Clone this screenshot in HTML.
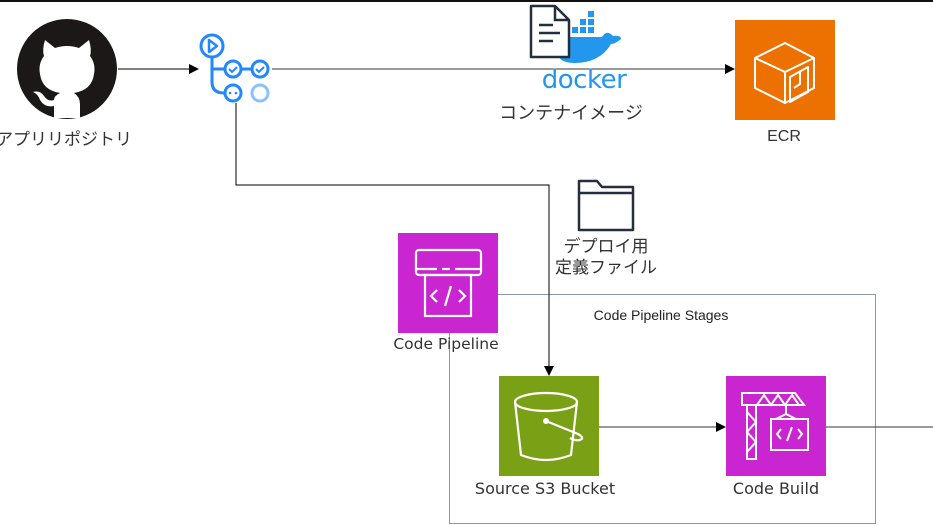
<!DOCTYPE html>
<html><head><meta charset="utf-8"><style>
html,body{margin:0;padding:0;background:#fff;}
body{width:933px;height:525px;overflow:hidden;position:relative;font-family:"Liberation Sans","Noto Sans CJK JP",sans-serif;}
.t{position:absolute;color:#333;font-size:16px;white-space:nowrap;transform:translateX(-50%);}
</style></head><body>
<div style="position:absolute;left:0;top:0;width:933px;height:2px;background:#111"></div>
<svg width="933" height="525" style="position:absolute;left:0;top:0">
<defs><marker id="a" markerWidth="10" markerHeight="10" refX="9" refY="5" orient="auto" markerUnits="userSpaceOnUse"><path d="M0,0 L10,5 L0,10z" fill="#000"/></marker></defs>
<rect x="449.5" y="294.5" width="426" height="229" fill="none" stroke="#8a98aa" stroke-width="1"/>
<line x1="118" y1="69" x2="198" y2="69" stroke="#000" marker-end="url(#a)"/>
<line x1="272" y1="69" x2="734" y2="69" stroke="#333" marker-end="url(#a)"/>
<polyline points="236,103 236,185 549,185 549,375" fill="none" stroke="#000" marker-end="url(#a)"/>
<line x1="599" y1="427" x2="725" y2="427" stroke="#333" marker-end="url(#a)"/>
<line x1="826" y1="427" x2="933" y2="427" stroke="#333"/>
<circle cx="67" cy="69" r="50" fill="#1b1817"/>
<path d="M45,40 L55,48 Q67,44 79,48 L89,40 Q92,50 90,56 Q96,64 94,74 Q92,90 74,93 Q80,97 80,104 L80,118 L54,118 L54,106 Q45,108 40,100 Q38,94 33,92 Q40,90 44,96 Q48,102 54,100 Q54,96 60,93 Q42,90 40,74 Q38,64 44,56 Q42,50 45,40z" fill="#fff"/>
<g fill="none" stroke="#2188ff" stroke-width="3">
<circle cx="212" cy="46" r="11"/>
<path d="M209,40 L217,46 L209,52z" stroke-width="2.5" stroke-linejoin="round"/>
<path d="M212,57 L212,82 Q212,93 224,93"/>
<line x1="212" y1="69" x2="224" y2="69"/>
<circle cx="233" cy="69" r="8"/><path d="M229,69 l3,3 l5,-5" stroke-width="2"/>
<line x1="241" y1="69" x2="252" y2="69"/>
<circle cx="260" cy="69" r="8"/><path d="M256,69 l3,3 l5,-5" stroke-width="2"/>
<circle cx="233" cy="93" r="8"/>
<circle cx="260" cy="93" r="8" stroke="#8cc1ff"/>
</g>
<circle cx="230" cy="93" r="1.3" fill="#2188ff"/><circle cx="236" cy="93" r="1.3" fill="#2188ff"/>
<path d="M556,37 L602,37 Q607,29 613,36 Q621,35 621,39 Q615,44 611,44 Q600,63 574,63 Q557,63 555,48z" fill="#2396ed"/>
<g fill="#2396ed"><rect x="572" y="27" width="6" height="6"/><rect x="580" y="27" width="6" height="6"/><rect x="588" y="27" width="6" height="6"/><rect x="580" y="19" width="6" height="6"/><rect x="588" y="19" width="6" height="6"/><rect x="588" y="11" width="6" height="6"/><rect x="564" y="27" width="6" height="6"/></g>
<path d="M531,6 L555,6 L569,20 L569,57 L531,57z" fill="#fff" stroke="#232f3e" stroke-width="2.5" stroke-linejoin="round"/>
<path d="M555,6 L555,20 L569,20" fill="none" stroke="#232f3e" stroke-width="2.5"/>
<g stroke="#232f3e" stroke-width="2.5"><line x1="539" y1="25" x2="553" y2="25"/><line x1="539" y1="33" x2="560" y2="33"/><line x1="539" y1="41" x2="553" y2="41"/></g>
<rect x="735" y="20" width="100" height="100" fill="#ed7100"/>
<g fill="none" stroke="#fff" stroke-width="2" stroke-linejoin="round">
<path d="M755,58 L785,43 L814,58 L814,88 L785,103 L755,88z"/>
<path d="M755,58 L785,72 L814,58 M785,72 L785,103"/>
<path d="M790,77 L808,67 L808,92 L790,102z M800,72 L800,84 L794,88"/>
</g>
<path d="M579,181 L597,181 L602,187 L633,187 L633,230 L579,230z M579,193 L633,193" fill="none" stroke="#232f3e" stroke-width="2.5" stroke-linejoin="round"/>
<rect x="398" y="233" width="100" height="100" fill="#c925d1"/>
<g fill="none" stroke="#fff" stroke-width="2.2">
<rect x="416" y="250" width="65" height="25" rx="3"/>
<line x1="416" y1="269" x2="437" y2="269"/><line x1="442" y1="269" x2="450" y2="269"/><line x1="455" y1="269" x2="481" y2="269"/>
<rect x="425" y="275" width="46" height="41"/>
<path d="M437,290 l-6,6 l6,6 M459,290 l6,6 l-6,6 M451,286 l-6,20"/>
</g>
<rect x="499" y="376" width="100" height="100" fill="#7aa116"/>
<g fill="none" stroke="#fff" stroke-width="2.2">
<ellipse cx="546" cy="402" rx="31" ry="9"/>
<path d="M515,402 L521,455 Q546,465 571,455 L577,402"/>
<path d="M546,421 L578,434 Q585,438 580,440 Q575,441 570,438"/>
</g>
<circle cx="546" cy="421" r="3" fill="#fff"/>
<rect x="726" y="376" width="100" height="100" fill="#c925d1"/>
<g fill="none" stroke="#fff" stroke-width="2">
<path d="M742,393 L795,393 L804,405 L742,405z M742,393 L742,405"/>
<path d="M747,405 L747,459 L756,459 L756,405"/>
<path d="M747,412 L756,422 L747,432 L756,442 L747,452"/>
<path d="M757,405 L764,395 L771,405 L778,395 L785,405 L792,395 L799,405"/>
<line x1="786" y1="405" x2="786" y2="414"/>
<path d="M776,419 L786,414 L796,419"/>
<rect x="771" y="419" width="37" height="31"/>
<path d="M781,429 l-4,5 l4,5 M798,429 l4,5 l-4,5 M792,427 l-5,14"/>
</g>
</svg>
<div class="t" style="left:64px;top:125px;font-size:17px;">アプリリポジトリ</div>
<div class="t" style="left:584px;top:65px;font-size:26px;color:#2396ed;font-family:'DejaVu Sans',sans-serif;letter-spacing:-0.5px;">docker</div>
<div class="t" style="left:571px;top:99px;font-size:18px;">コンテナイメージ</div>
<div class="t" style="left:784px;top:128px;font-size:16px;">ECR</div>
<div class="t" style="left:606px;top:236px;line-height:21px;text-align:center;font-size:17px;">デプロイ用<br>定義ファイル</div>
<div class="t" style="left:446px;top:335px;font-family:'DejaVu Sans',sans-serif;font-size:15.5px;">Code Pipeline</div>
<div class="t" style="left:661px;top:307px;font-size:14px;color:#222;">Code Pipeline Stages</div>
<div class="t" style="left:545px;top:479px;font-family:'DejaVu Sans',sans-serif;font-size:16px;">Source S3 Bucket</div>
<div class="t" style="left:776px;top:479px;font-family:'DejaVu Sans',sans-serif;font-size:16px;">Code Build</div>
</body></html>
